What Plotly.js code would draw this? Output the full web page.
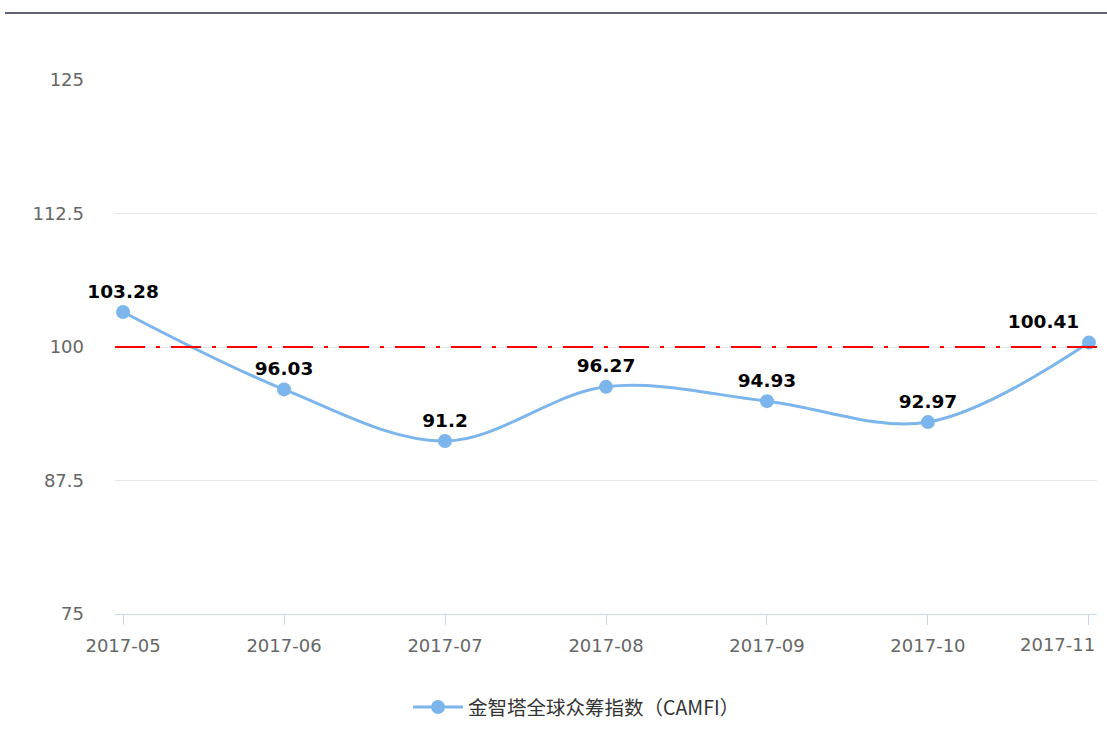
<!DOCTYPE html>
<html>
<head>
<meta charset="utf-8">
<script src="https://cdn.plot.ly/plotly-3.0.1.min.js"></script>
<style>
html,body{margin:0;padding:0;background:#fff;}
#chart{width:1107px;height:733px;}
</style>
</head>
<body>
<div id="chart"></div>
<script>
var months = ['2017-05','2017-06','2017-07','2017-08','2017-09','2017-10','2017-11'];
var camfi = [103.28, 96.03, 91.2, 96.27, 94.93, 92.97, 100.41];
var labels = ['103.28','96.03','91.2','96.27','94.93','92.97','100.41'];
var seriesName = '金智塔全球众筹指数（CAMFI）';
var baseline = 100;
var yTicks = [75, 87.5, 100, 112.5, 125];
var yTickText = ['75', '87.5', '100', '112.5', '125'];

// the last tick label is drawn right-aligned (as in the reference) via an annotation
var xTickText = months.slice(0, months.length - 1).concat(['']);
var lastMonth = months[months.length - 1];

var labelPos = labels.map(function (_, i) { return i === labels.length - 1 ? 'top left' : 'top center'; });

var trace = {
  x: months,
  y: camfi,
  name: seriesName,
  type: 'scatter',
  mode: 'lines+markers+text',
  text: labels,
  textposition: labelPos,
  textfont: {family: 'DejaVu Sans, Verdana, sans-serif', size: 18.5, color: '#000', weight: 'bold'},
  line: {shape: 'spline', smoothing: 1, color: '#7cb5ec', width: 3},
  marker: {size: 14, color: '#7cb5ec'},
  cliponaxis: false,
  hoverinfo: 'x+y'
};

var layout = {
  width: 1107, height: 733,
  margin: {l: 115, r: 10, t: 80, b: 119, autoexpand: false},
  paper_bgcolor: '#fff', plot_bgcolor: '#fff',
  font: {family: 'DejaVu Sans, Verdana, sans-serif', size: 18, color: '#666'},
  showlegend: true,
  legend: {orientation: 'h', x: 0.47, xanchor: 'center',
           yref: 'container', y: 0.035, yanchor: 'middle',
           itemwidth: 50,
           font: {family: 'Noto Sans CJK SC, sans-serif', size: 19.5, color: '#333'}},
  xaxis: {
    type: 'category',
    range: [-0.05, 6.05],
    tickvals: months, ticktext: xTickText,
    showgrid: false, zeroline: false,
    showline: true, linecolor: '#ccd6eb', linewidth: 1,
    ticks: 'outside', ticklen: 10, tickcolor: '#ccd6eb', tickwidth: 1,
    ticklabelstandoff: 5,
    tickfont: {size: 18, color: '#666'},
    fixedrange: true
  },
  yaxis: {
    range: [75, 125],
    tickvals: yTicks, ticktext: yTickText,
    showgrid: true, gridcolor: '#e6e6e6', gridwidth: 1,
    zeroline: false, showline: false,
    ticks: '', ticklabelstandoff: 30,
    tickfont: {size: 18, color: '#666'},
    fixedrange: true
  },
  annotations: [
    {xref: 'paper', yref: 'paper', x: 1.0, y: 0, xanchor: 'right', yanchor: 'top',
     yshift: -18, text: lastMonth, showarrow: false,
     font: {family: 'DejaVu Sans, Verdana, sans-serif', size: 18, color: '#666'}}
  ],
  shapes: [
    {type: 'line', xref: 'paper', yref: 'y', x0: 0, x1: 1, y0: baseline, y1: baseline,
     line: {color: 'red', width: 2, dash: '30px,11px,4px,11px'}, layer: 'above'},
    {type: 'line', xref: 'paper', yref: 'paper', x0: -0.112, x1: 1.011, y0: 1.1255, y1: 1.1255,
     line: {color: '#5b6470', width: 2}}
  ]
};

Plotly.newPlot('chart', [trace], layout, {displayModeBar: false, staticPlot: true});
</script>
</body>
</html>
